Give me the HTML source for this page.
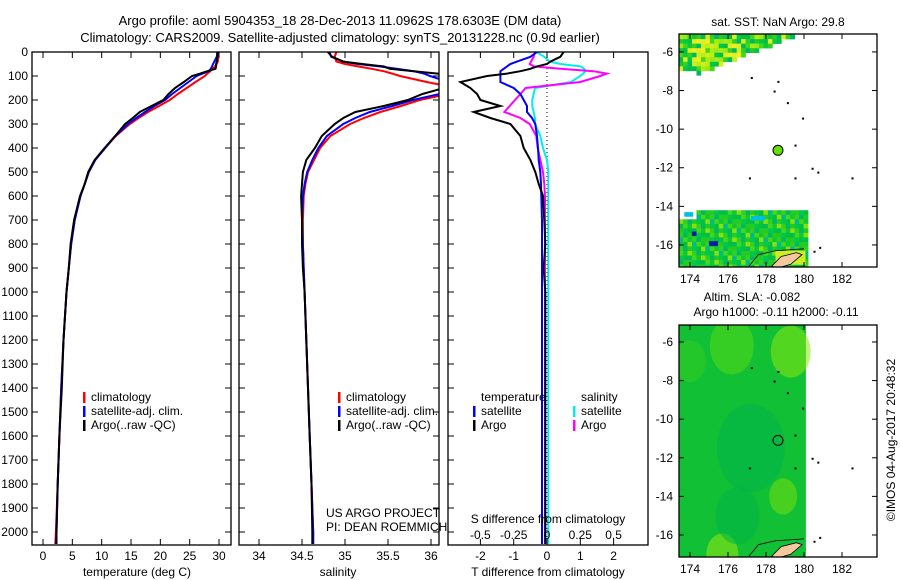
<!DOCTYPE html>
<html><head><meta charset="utf-8">
<style>
html,body{margin:0;padding:0;background:#fff;}
svg{display:block;font-family:"Liberation Sans",sans-serif;}
text{font-size:12px;fill:#000;}
</style></head>
<body>
<svg id="fig" width="900" height="580" viewBox="0 0 900 580" xmlns="http://www.w3.org/2000/svg">
<text x="340" y="25" text-anchor="middle" style="font-size:13px">Argo profile: aoml 5904353_18 28-Dec-2013 11.0962S 178.6303E (DM data)</text>
<text x="340" y="42" text-anchor="middle" style="font-size:13px">Climatology: CARS2009. Satellite-adjusted climatology: synTS_20131228.nc (0.9d earlier)</text>
<g id="g1"></g>
<g id="g2"></g>
<g id="g3"></g>
<g id="m1"></g>
<g id="m2"></g>
<text transform="translate(895,440) rotate(-90)" text-anchor="middle">©IMOS 04-Aug-2017 20:48:32</text>
</svg>
<script>
const depths = [0,20,40,50,60,70,80,90,100,125,150,175,200,225,250,275,300,350,400,450,500,550,600,700,800,900,1000,1200,1400,1600,1800,2000,2050];
const tempClim = [29.9,29.9,29.8,29.6,29.3,28.9,28.5,28.0,27.6,26.0,24.5,23.0,21.6,19.8,17.9,16.3,14.8,12.4,10.6,8.9,7.8,7.1,6.4,5.4,4.8,4.4,4.0,3.5,3.1,2.8,2.5,2.2,2.1];
const tempSat = [29.8,29.6,29.2,29.0,28.8,28.6,28.3,27.2,26.2,24.8,23.4,22.0,20.8,19.0,17.4,15.9,14.5,12.3,10.6,8.9,7.8,7.1,6.4,5.4,4.8,4.4,4.0,3.5,3.1,2.8,2.5,2.3,2.2];
const tempArgo = [29.7,29.7,29.6,29.5,29.5,29.4,28.0,26.8,25.4,24.0,22.5,21.4,20.5,18.5,16.5,15.3,14.0,12.3,10.5,8.8,7.7,7.1,6.3,5.3,4.7,4.4,4.0,3.5,3.2,2.8,2.5,2.3,2.3];
const salClim = [34.9,34.88,34.9,35.0,35.15,35.31,35.45,35.55,35.64,35.95,36.3,36.2,35.87,35.65,35.41,35.22,35.06,34.83,34.71,34.64,34.57,34.54,34.52,34.51,34.51,34.52,34.53,34.55,34.57,34.59,34.61,34.63,34.63];
const salSat = [34.82,34.84,34.98,35.15,35.4,35.6,35.8,35.92,35.99,36.2,36.25,36.1,35.79,35.55,35.29,35.12,34.98,34.79,34.69,34.62,34.56,34.53,34.51,34.5,34.51,34.52,34.53,34.55,34.57,34.59,34.61,34.63,34.63];
const salArgo = [34.80,34.85,34.98,35.2,35.45,35.52,35.8,36.08,36.2,36.3,36.15,35.9,35.73,35.45,35.12,34.98,34.88,34.73,34.65,34.55,34.51,34.5,34.49,34.5,34.5,34.51,34.53,34.55,34.57,34.59,34.61,34.62,34.62];
const dTArgo = [0.5,0.4,0.1,0,-0.3,-0.5,-0.8,-1.2,-1.8,-2.6,-2.3,-2.1,-2.0,-1.4,-2.2,-1.7,-1.1,-0.8,-0.7,-0.5,-0.35,-0.25,-0.12,-0.08,-0.05,-0.1,-0.05,-0.05,-0.05,-0.05,-0.05,-0.05,-0.05];
const dTSat = [-0.3,-0.5,-0.9,-1.1,-1.2,-1.3,-1.4,-1.4,-1.4,-1.4,-1.0,-0.8,-0.7,-0.6,-0.6,-0.45,-0.35,-0.3,-0.27,-0.25,-0.2,-0.18,-0.17,-0.15,-0.15,-0.15,-0.15,-0.15,-0.15,-0.15,-0.15,-0.15,-0.15];
const dSSat = [-0.08,-0.02,0.02,0.1,0.25,0.28,0.29,0.27,0.25,0.18,-0.09,-0.1,-0.11,-0.11,-0.1,-0.09,-0.09,-0.05,-0.03,0,0.01,0.01,0.01,0.01,0.01,0.01,0.01,0.01,0.01,0.01,0.01,0.01,0.01];
const dSArgo = [-0.09,-0.1,-0.12,-0.13,-0.1,0.1,0.35,0.45,0.4,0.25,-0.16,-0.2,-0.24,-0.28,-0.32,-0.2,-0.13,-0.08,-0.07,-0.05,-0.03,-0.02,-0.015,-0.015,-0.015,-0.015,-0.015,-0.015,-0.015,-0.015,-0.015,-0.015,-0.015];
const depthTicks = [0,100,200,300,400,500,600,700,800,900,1000,1100,1200,1300,1400,1500,1600,1700,1800,1900,2000];
const tempTicks = [0,5,10,15,20,25,30];
const salTicks = [34,34.5,35,35.5,36];
const tdiffTicks = [-2,-1,0,1,2];
const sdiffTicks = [-0.5,-0.25,0,0.25,0.5];
const lonTicks = [174,176,178,180,182];
const latTicks = [-6,-8,-10,-12,-14,-16];
const argoLon = 178.63, argoLat = -11.096;

const NS='http://www.w3.org/2000/svg';
function mk(tag,attrs,parent,txt){const e=document.createElementNS(NS,tag);for(const k in attrs)e.setAttribute(k,attrs[k]);if(txt!==undefined)e.textContent=txt;parent.appendChild(e);return e;}
const TOP=52,BOT=545;
const yD=d=>TOP+d*0.24;
function frame(g,x0,x1,y0,y1){
  const r=mk('rect',{x:x0,y:y0,width:x1-x0,height:y1-y0,fill:'none',stroke:'#000','stroke-width':1.3},g);
  
  
}
function line(g,xs,ys,color,name,w){
  let p='';for(let i=0;i<xs.length;i++)p+=(i?'L':'M')+xs[i].toFixed(1)+','+ys[i].toFixed(1);
  const e=mk('path',{d:p,fill:'none',stroke:color,'stroke-width':w||2},g);
  
  
}
function clip(id,x0,x1,y0,y1){const c=mk('clipPath',{id:id},document.getElementById('fig'));mk('rect',{x:x0,y:y0,width:x1-x0,height:y1-y0},c);}
function legend(g,x,y,items){
  items.forEach((it,i)=>{
    const b=mk('rect',{x:x,y:y+i*14-9,width:2.5,height:11,fill:it[1]},g);
    
    
    const t=mk('text',{x:x+8,y:y+i*14},g,it[0]);
    
    
  });
}
(function(){
  const g=document.getElementById('g1');const x0=32,x1=231;
  const xT=t=>43+t*5.867;
  clip('c1',x0,x1,TOP,BOT);
  const inner=mk('g',{'clip-path':'url(#c1)'},g);
  line(inner,tempClim.map(xT),depths.map(yD),'#f00','temp-climatology-line');
  line(inner,tempSat.map(xT),depths.map(yD),'#00f','temp-satellite-line');
  line(inner,tempArgo.map(xT),depths.map(yD),'#000','temp-argo-line');
  frame(g,x0,x1,TOP,BOT);
  depthTicks.forEach(d=>{const y=yD(d);mk('line',{x1:x0,x2:x0+6,y1:y,y2:y,stroke:'#000'},g);mk('line',{x1:x1,x2:x1-6,y1:y,y2:y,stroke:'#000'},g);
    const t=mk('text',{x:x0-4,y:y+4,'text-anchor':'end'},g,String(d));});
  tempTicks.forEach(v=>{const x=xT(v);mk('line',{x1:x,x2:x,y1:BOT,y2:BOT-6,stroke:'#000'},g);mk('line',{x1:x,x2:x,y1:TOP,y2:TOP+6,stroke:'#000'},g);
    const t=mk('text',{x:x,y:BOT+15,'text-anchor':'middle'},g,String(v));});
  const xl=mk('text',{x:137,y:576,'text-anchor':'middle'},g,'temperature (deg C)');
  legend(g,83,401,[['climatology','#f00'],['satellite-adj. clim.','#00f'],['Argo(..raw -QC)','#000']]);
})();
(function(){
  const g=document.getElementById('g2');const x0=239,x1=439;
  const xS=s=>259+(s-34)*86;
  clip('c2',x0,x1,TOP,BOT);
  const inner=mk('g',{'clip-path':'url(#c2)'},g);
  line(inner,salClim.map(xS),depths.map(yD),'#f00','sal-climatology-line');
  line(inner,salSat.map(xS),depths.map(yD),'#00f','sal-satellite-line');
  line(inner,salArgo.map(xS),depths.map(yD),'#000','sal-argo-line');
  frame(g,x0,x1,TOP,BOT);
  depthTicks.forEach(d=>{const y=yD(d);mk('line',{x1:x0,x2:x0+6,y1:y,y2:y,stroke:'#000'},g);mk('line',{x1:x1,x2:x1-6,y1:y,y2:y,stroke:'#000'},g);});
  salTicks.forEach(v=>{const x=xS(v);mk('line',{x1:x,x2:x,y1:BOT,y2:BOT-6,stroke:'#000'},g);mk('line',{x1:x,x2:x,y1:TOP,y2:TOP+6,stroke:'#000'},g);
    const t=mk('text',{x:x,y:BOT+15,'text-anchor':'middle'},g,String(v));});
  const xl=mk('text',{x:338,y:576,'text-anchor':'middle'},g,'salinity');
  legend(g,338,401,[['climatology','#f00'],['satellite-adj. clim.','#00f'],['Argo(..raw -QC)','#000']]);
  const a=mk('text',{x:326,y:517},g,'US ARGO PROJECT');
  const b=mk('text',{x:326,y:531},g,'PI: DEAN ROEMMICH');
})();
(function(){
  const g=document.getElementById('g3');const x0=448,x1=648;
  const xT=t=>547+t*33.3, xS=s=>547+s*133.2;
  clip('c3',x0,x1,TOP,BOT);
  mk('line',{x1:547,x2:547,y1:TOP,y2:BOT,stroke:'#000','stroke-dasharray':'1,3'},g);
  const inner=mk('g',{'clip-path':'url(#c3)'},g);
  line(inner,dSSat.map(xS),depths.map(yD),'#0ee','sdiff-satellite-line');
  line(inner,dSArgo.map(xS),depths.map(yD),'#f0f','sdiff-argo-line');
  line(inner,dTSat.map(xT),depths.map(yD),'#00f','tdiff-satellite-line');
  line(inner,dTArgo.map(xT),depths.map(yD),'#000','tdiff-argo-line');
  frame(g,x0,x1,TOP,BOT);
  depthTicks.forEach(d=>{const y=yD(d);mk('line',{x1:x0,x2:x0+6,y1:y,y2:y,stroke:'#000'},g);});
  tdiffTicks.forEach(v=>{const x=xT(v);mk('line',{x1:x,x2:x,y1:BOT,y2:BOT-6,stroke:'#000'},g);mk('line',{x1:x,x2:x,y1:TOP,y2:TOP+6,stroke:'#000'},g);
    const t=mk('text',{x:x,y:BOT+15,'text-anchor':'middle'},g,String(v));});
  sdiffTicks.forEach(v=>{const x=xS(v);
    const t=mk('text',{x:x,y:539,'text-anchor':'middle'},g,String(v));});
  const st=mk('text',{x:548,y:523,'text-anchor':'middle'},g,'S difference from climatology');
  const xl=mk('text',{x:548,y:576,'text-anchor':'middle'},g,'T difference from climatology');
  const h1=mk('text',{x:481,y:401},g,'temperature');
  const h2=mk('text',{x:581,y:401},g,'salinity');
  legend(g,473,415,[['satellite','#00f'],['Argo','#000']]);
  legend(g,573,415,[['satellite','#0ee'],['Argo','#f0f']]);
})();
function map(id,y0,y1,latTop,sst){
  const g=document.getElementById(id);const x0=679,x1=877;
  const X=l=>690+(l-174)*19, Y=l=>y0+(latTop-l)*19.3;
  clip('c'+id,x0,x1,y0,y1);
  const inner=mk('g',{'clip-path':'url(#c'+id+')'},g);
  if(sst){
    const greens=['#00c040','#11c830','#22cc22','#00bb50','#33d020','#00c848','#44d818','#00b860'];
    const yellows=['#aaee11','#ccee22','#ddee22','#99e818','#bbee11','#eeee22'];
    for(let i=0;i<26;i++)for(let j=0;j<10;j++){
      const lon=173.4+i*0.235,lat=-5.1-j*0.235;
      if(lon>179.3-j*0.6 || lat<-7.4 || (lon<174.2&&lat<-6.8))continue;
      const h=(i*37+j*61)%17;
      const inY=(i>2&&i<14&&j<7&&j>0);
      const col=inY?(h<12?yellows[h%6]:greens[h%8]):(h<4?yellows[h%6]:greens[h%8]);
      mk('rect',{x:X(lon),y:Y(lat),width:4.8,height:4.8,fill:col},inner);
    }
    for(let i=0;i<29;i++)for(let j=0;j<13;j++){
      const lon=173.4+i*0.235,lat=-14.2-j*0.235;
      if(lat>-14.5&&lon<174.2)continue;
      const h=(i*41+j*29)%19;
      const col=h<2?'#88e011':(h===3?'#00bb88':greens[h%8]);
      mk('rect',{x:X(lon),y:Y(lat),width:4.8,height:4.8,fill:col},inner);
    }
    mk('rect',{x:X(174.1),y:Y(-15.3),width:4.6,height:4.6,fill:'#0020a0'},inner);
    mk('rect',{x:X(175.0),y:Y(-15.8),width:9,height:5,fill:'#0020a0'},inner);
    mk('rect',{x:X(173.7),y:Y(-14.3),width:9,height:4.6,fill:'#00c0e0'},inner);
    mk('rect',{x:X(177.2),y:Y(-14.5),width:14,height:4.6,fill:'#00c0e0'},inner);
    mk('rect',{x:X(178.5),y:Y(-16.3),width:30,height:14,fill:'#ccee22'},inner);
  } else {
    mk('rect',{x:x0,y:y0,width:X(180.1)-x0,height:y1-y0,fill:'#11c034'},inner);
    [[176.2,-6.2,22,'#55d818'],[179.3,-6.5,20,'#88e811'],[178.9,-14,14,'#77dd11'],[175.7,-17,16,'#99e811'],[174,-7,16,'#33cc22'],[177.2,-11.5,34,'#00b04c'],[176.5,-15,22,'#00b448']].forEach(b=>{
      mk('ellipse',{cx:X(b[0]),cy:Y(b[1]),rx:b[2],ry:b[2]*1.3,fill:b[3],opacity:0.55},inner);});
  }
  mk('path',{d:`M${X(178.3)},${Y(-17.1)} L${X(178.8)},${Y(-16.6)} L${X(179.6)},${Y(-16.4)} L${X(179.9)},${Y(-16.5)} L${X(179.3)},${Y(-17.0)} L${X(178.6)},${Y(-17.2)} Z`,fill:'#f5c8a0',stroke:'#000','stroke-width':0.8},inner);
  mk('path',{d:`M${X(177.1)},${Y(-17.1)} L${X(177.6)},${Y(-16.5)} L${X(178.5)},${Y(-16.3)} L${X(180)},${Y(-16.2)}`,fill:'none',stroke:'#000','stroke-width':0.8},inner);
  [[177.2,-7.3],[178.6,-7.5],[178.4,-8],[179.1,-8.6],[179.9,-9.4],[179.5,-10.8],[180.4,-12],[180.7,-12.2],[177.1,-12.5],[179.5,-12.5],[182.5,-12.5],[180.8,-16.1],[180.5,-16.3]].forEach(p=>{
    mk('rect',{x:X(p[0]),y:Y(p[1]),width:2,height:2,fill:'#000'},inner);});
  const m=mk('circle',{cx:X(argoLon),cy:Y(argoLat),r:5,fill:sst?'#66dd00':'none',stroke:'#000','stroke-width':1},inner);
  
  
  frame(g,x0,x1,y0,y1);
  lonTicks.forEach(l=>{const x=X(l);mk('line',{x1:x,x2:x,y1:y1,y2:y1-5,stroke:'#000'},g);mk('line',{x1:x,x2:x,y1:y0,y2:y0+5,stroke:'#000'},g);
    const t=mk('text',{x:x,y:y1+16,'text-anchor':'middle'},g,String(l));});
  latTicks.forEach(l=>{const y=Y(l);mk('line',{x1:x0,x2:x0+5,y1:y,y2:y,stroke:'#000'},g);mk('line',{x1:x1,x2:x1-5,y1:y,y2:y,stroke:'#000'},g);
    const t=mk('text',{x:x0-6,y:y+4,'text-anchor':'end'},g,String(l));});
}
map('m1',34,267,-5.07,true);
map('m2',325,557,-5.12,false);
(function(){const g=document.getElementById('m1');
  const t=mk('text',{x:778,y:26,'text-anchor':'middle'},g,'sat. SST: NaN Argo: 29.8');
  const g2=document.getElementById('m2');
  const a=mk('text',{x:752,y:301,'text-anchor':'middle'},g2,'Altim. SLA: -0.082');
  const b=mk('text',{x:776,y:316,'text-anchor':'middle'},g2,'Argo h1000: -0.11 h2000: -0.11');
})();
</script>
</body></html>
